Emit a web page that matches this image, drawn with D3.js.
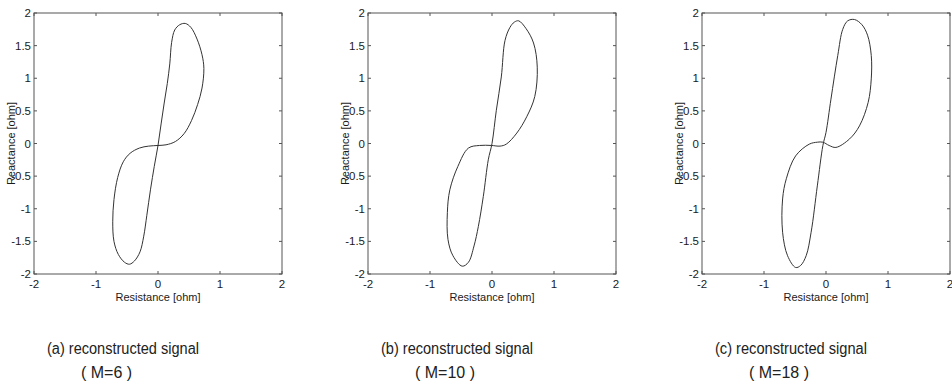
<!DOCTYPE html>
<html>
<head>
<meta charset="utf-8">
<script src="https://cdn.jsdelivr.net/npm/d3@7"></script>
<style>
  body { margin: 0; background: #fff; }
  text { font-family: "Liberation Sans", Arial, sans-serif; fill: #1a1a1a; }
  .caption { font-family: "Liberation Sans", Arial, sans-serif; font-size: 16px; fill: #222; }
</style>
</head>
<body>
<div id="chart"></div>
<script>
// Reconstructed impedance loops (Resistance vs Reactance)

const xTicks = [-2, -1, 0, 1, 2];
const yTicks = [2, 1.5, 1, 0.5, 0, -0.5, -1, -1.5, -2];
const captions = ["(a) reconstructed signal", "(b) reconstructed signal", "(c) reconstructed signal"];
const subCaptions = ["( M=6 )", "( M=10 )", "( M=18 )"];

// each loop: [resistance, reactance], closed
const loopM6 = [
  [0, -0.03], [0.05, 0.3], [0.1, 0.62], [0.15, 0.92], [0.19, 1.22], [0.22, 1.55],
  [0.27, 1.74], [0.35, 1.82], [0.44, 1.84], [0.53, 1.78], [0.63, 1.6], [0.71, 1.36],
  [0.74, 1.15], [0.71, 0.85], [0.64, 0.6], [0.54, 0.35], [0.42, 0.15], [0.28, 0.03],
  [0.13, -0.02], [0, -0.03], [-0.15, -0.04], [-0.3, -0.07], [-0.45, -0.15], [-0.56, -0.28],
  [-0.65, -0.52], [-0.71, -0.86], [-0.73, -1.2], [-0.71, -1.5], [-0.64, -1.7], [-0.54, -1.82],
  [-0.46, -1.85], [-0.38, -1.8], [-0.29, -1.66], [-0.23, -1.42], [-0.18, -1.1],
  [-0.12, -0.7], [-0.06, -0.35]
];

const loopM10 = [
  [0, 0], [0.07, 0.51], [0.15, 1.02], [0.21, 1.58], [0.29, 1.78], [0.36, 1.86],
  [0.43, 1.88], [0.55, 1.76], [0.67, 1.54], [0.73, 1.17], [0.69, 0.72], [0.56, 0.41],
  [0.4, 0.16], [0.23, -0.01], [0.13, -0.04], [-0.01, -0.03], [-0.2, -0.03], [-0.38, -0.07],
  [-0.55, -0.35], [-0.68, -0.71], [-0.72, -1.06], [-0.71, -1.47], [-0.63, -1.72],
  [-0.48, -1.88], [-0.38, -1.82], [-0.29, -1.57], [-0.22, -1.27], [-0.14, -0.81],
  [-0.06, -0.25]
];

const loopM18 = [
  [0, 0.17], [0.08, 0.68], [0.19, 1.35], [0.27, 1.75], [0.35, 1.88], [0.46, 1.9],
  [0.58, 1.82], [0.67, 1.66], [0.73, 1.35], [0.73, 0.99], [0.68, 0.63], [0.54, 0.27],
  [0.38, 0.07], [0.16, -0.06], [0.05, -0.03], [-0.05, 0.02], [-0.14, 0.02], [-0.27, -0.01],
  [-0.49, -0.19], [-0.64, -0.54], [-0.7, -0.85], [-0.7, -1.36], [-0.62, -1.72],
  [-0.49, -1.9], [-0.41, -1.87], [-0.32, -1.72], [-0.24, -1.36], [-0.14, -0.65],
  [-0.05, -0.03]
];

const loops = [loopM6, loopM10, loopM18];

const W = 952, H = 382;
const panelLeft = [34, 368, 702];
const pw = 248, pTop = 13, pBottom = 274;

const svg = d3.select("#chart").append("svg")
  .attr("width", W)
  .attr("height", H);

loops.forEach((loop, i) => {
  const left = panelLeft[i];
  const x = d3.scaleLinear().domain([-2, 2]).range([left, left + pw]);
  const y = d3.scaleLinear().domain([-2, 2]).range([pBottom, pTop]);
  const g = svg.append("g");

  // frame
  g.append("rect")
    .attr("x", left).attr("y", pTop)
    .attr("width", pw).attr("height", pBottom - pTop)
    .attr("fill", "none")
    .attr("stroke", "#555")
    .attr("stroke-width", 1);

  // inward ticks on all four sides (matlab style)
  const tk = 3;
  xTicks.forEach(t => {
    g.append("line").attr("x1", x(t)).attr("x2", x(t)).attr("y1", pBottom).attr("y2", pBottom - tk).attr("stroke", "#555");
    g.append("line").attr("x1", x(t)).attr("x2", x(t)).attr("y1", pTop).attr("y2", pTop + tk).attr("stroke", "#555");
  });
  yTicks.forEach(t => {
    g.append("line").attr("x1", left).attr("x2", left + tk).attr("y1", y(t)).attr("y2", y(t)).attr("stroke", "#555");
    g.append("line").attr("x1", left + pw).attr("x2", left + pw - tk).attr("y1", y(t)).attr("y2", y(t)).attr("stroke", "#555");
  });

  // tick labels
  g.selectAll(".xt").data(xTicks).enter().append("text")
    .attr("x", d => x(d))
    .attr("y", pBottom + 14)
    .attr("text-anchor", "middle")
    .attr("font-size", 11.5)
    .text(d => d);

  g.selectAll(".yt").data(yTicks).enter().append("text")
    .attr("x", left - 3)
    .attr("y", d => y(d) + 4)
    .attr("text-anchor", "end")
    .attr("font-size", 11.5)
    .text(d => d);

  // axis labels
  g.append("text")
    .attr("x", left + pw / 2)
    .attr("y", pBottom + 27)
    .attr("text-anchor", "middle")
    .attr("font-size", 11)
    .text("Resistance [ohm]");

  g.append("text")
    .attr("transform", `translate(${left - 19},${(pTop + pBottom) / 2}) rotate(-90)`)
    .attr("text-anchor", "middle")
    .attr("font-size", 11)
    .text("Reactance [ohm]");

  // the loop
  const line = d3.line()
    .x(d => x(d[0]))
    .y(d => y(d[1]))
    .curve(d3.curveCatmullRomClosed.alpha(0.5));

  g.append("path")
    .datum(loop)
    .attr("d", line)
    .attr("fill", "none")
    .attr("stroke", "#333")
    .attr("stroke-width", 1);

  // captions (narrow face in the original, squeezed to fit)
  svg.append("text")
    .attr("class", "caption")
    .attr("x", left + 13)
    .attr("y", 354)
    .attr("textLength", 152)
    .attr("lengthAdjust", "spacingAndGlyphs")
    .text(captions[i]);

  svg.append("text")
    .attr("class", "caption")
    .attr("x", left + 47)
    .attr("y", 378)
    .text(subCaptions[i]);
});
</script>
</body>
</html>
